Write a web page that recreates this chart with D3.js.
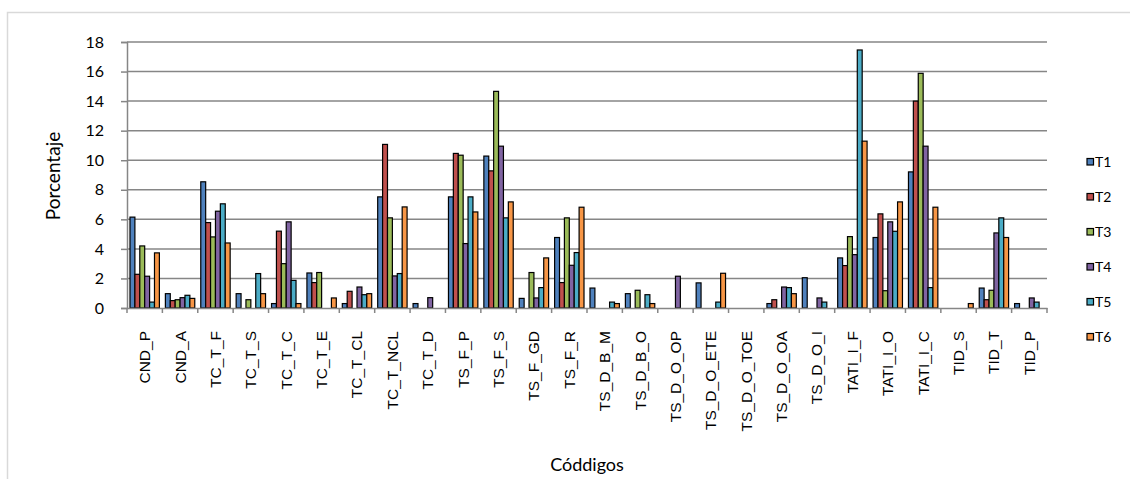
<!DOCTYPE html>
<html><head><meta charset="utf-8">
<script src="https://cdn.jsdelivr.net/npm/d3@7"></script>
<style>
html,body{margin:0;padding:0;background:#fff;}
svg{display:block;}
</style>
</head><body>
<svg id="chart" width="1130" height="479"></svg>
<script>
const categories = ["CND_P","CND_A","TC_T_F","TC_T_S","TC_T_C","TC_T_E","TC_T_CL","TC_T_NCL","TC_T_D","TS_F_P","TS_F_S","TS_F_GD","TS_F_R","TS_D_B_M","TS_D_B_O","TS_D_O_OP","TS_D_O_ETE","TS_D_O_TOE","TS_D_O_OA","TS_D_O_I","TATI_I_F","TATI_I_O","TATI_I_C","TID_S","TID_T","TID_P"];
const seriesNames = ["T1","T2","T3","T4","T5","T6"];
const T1 = [6.15,0.97,8.54,0.97,0.3,2.37,0.3,7.52,0.3,7.52,10.28,0.65,4.77,1.35,0.97,0,1.7,0,0.3,2.05,3.39,4.77,9.21,0,1.35,0.3];
const T2 = [2.28,0.5,5.78,0,5.2,1.72,1.13,11.07,0,10.46,9.28,0,1.72,0,0,0,0,0,0.56,0,2.87,6.37,14.0,0,0.56,0];
const T3 = [4.2,0.56,4.81,0.56,3.0,2.4,0,6.1,0,10.34,14.66,2.4,6.1,0,1.2,0,0,0,0,0,4.83,1.17,15.88,0,1.2,0];
const T4 = [2.15,0.7,6.55,0,5.83,0,1.42,2.17,0.7,4.36,10.95,0.68,2.89,0,0,2.15,0,0,1.42,0.68,3.61,5.83,10.95,0,5.08,0.68];
const T5 = [0.4,0.86,7.05,2.33,1.87,0,0.9,2.33,0,7.52,6.1,1.38,3.75,0.4,0.9,0,0.4,0,1.38,0.4,17.46,5.19,1.38,0,6.1,0.4];
const T6 = [3.73,0.65,4.4,0.97,0.3,0.68,0.97,6.84,0,6.5,7.18,3.39,6.82,0.3,0.3,0,2.35,0,0.97,0,11.29,7.18,6.82,0.3,4.77,0];
const yTicks = [0,2,4,6,8,10,12,14,16,18];
const colors = ["#4F81BD","#C0504D","#9BBB59","#8064A2","#4BACC6","#F79646"];
const yTitle = "Porcentaje";
const xTitle = "Códdigos";

(function(){
const seriesValues = [T1,T2,T3,T4,T5,T6];
const svg = d3.select("#chart");

// outer chart border
svg.append("path").attr("d","M7.5,479 L7.5,12.5 L1130,12.5")
  .attr("fill","none").attr("stroke","#d9d9d9").attr("stroke-width",1.5);

const pLeft = 127, pRight = 1047, pTop = 42, pBottom = 308;
const x = d3.scaleBand().domain(categories).range([pLeft,pRight]).paddingInner(0).paddingOuter(0);
const xs = d3.scaleBand().domain(seriesNames).range([3, x.bandwidth()-3]).padding(0);
const y = d3.scaleLinear().domain([0,18]).range([pBottom,pTop]);
const axisColor = "#868686";

// gridlines
svg.append("g").selectAll("line").data(yTicks.filter(d=>d>0)).join("line")
  .attr("x1",pLeft).attr("x2",pRight).attr("y1",d=>y(d)).attr("y2",d=>y(d))
  .attr("stroke",axisColor).attr("stroke-width",1.5);

// y axis
const yAxis = svg.append("g").attr("transform",`translate(${pLeft},0)`)
  .call(d3.axisLeft(y).tickValues(yTicks).tickSize(6).tickPadding(17).tickFormat(d3.format("d")));
yAxis.select(".domain").attr("stroke",axisColor).attr("stroke-width",1.5);
yAxis.selectAll(".tick line").attr("stroke",axisColor).attr("stroke-width",1.5);
yAxis.selectAll(".tick text").attr("font-family","Lato, 'Open Sans', sans-serif").attr("font-size",16).attr("fill","#000");

// bars
const groups = svg.append("g").selectAll("g").data(seriesNames).join("g")
  .attr("fill",(d,i)=>colors[i]);
groups.selectAll("rect").data((s,i)=>categories.map((c,j)=>({c, s, v:seriesValues[i][j]})).filter(d=>d.v>0)).join("rect")
  .attr("x",d=>x(d.c)+xs(d.s))
  .attr("width",xs.bandwidth())
  .attr("y",d=>y(d.v))
  .attr("height",d=>pBottom-y(d.v))
  .attr("stroke","#000").attr("stroke-width",1.2);

// x axis
const xAxis = svg.append("g").attr("transform",`translate(0,${pBottom})`)
  .call(d3.axisBottom(x).tickSize(0).tickPadding(0));
xAxis.select(".domain").attr("stroke",axisColor).attr("stroke-width",1.5);
xAxis.selectAll(".tick line").remove();
// boundary ticks
svg.append("g").selectAll("line").data(d3.range(categories.length+1)).join("line")
  .attr("x1",i=>pLeft+i*x.step()).attr("x2",i=>pLeft+i*x.step())
  .attr("y1",pBottom).attr("y2",pBottom+5)
  .attr("stroke",axisColor).attr("stroke-width",1.5);
xAxis.selectAll(".tick text")
  .attr("font-family","'Liberation Sans', Arial, sans-serif").attr("font-size",15.5).attr("fill","#000")
  .attr("text-anchor","end").attr("dy","0.35em")
  .attr("transform","translate(0,23) rotate(-90)")
  .attr("x",0).attr("y",0);

// axis titles
svg.append("text").attr("transform","translate(60,176) rotate(-90)")
  .attr("text-anchor","middle").attr("font-family","Lato, 'Open Sans', sans-serif").attr("font-size",19)
  .text(yTitle);
svg.append("text").attr("x",587).attr("y",471)
  .attr("text-anchor","middle").attr("font-family","Lato, 'Open Sans', sans-serif").attr("font-size",18)
  .text(xTitle);

// legend
const leg = svg.append("g").selectAll("g").data(seriesNames).join("g")
  .attr("transform",(d,i)=>`translate(1087,${162+i*35})`);
leg.append("rect").attr("x",0).attr("y",-3.5).attr("width",6.5).attr("height",6.5)
  .attr("fill",(d,i)=>colors[i]).attr("stroke","#000").attr("stroke-width",1.2);
leg.append("text").attr("x",8).attr("y",0).attr("dy","0.35em")
  .attr("font-family","Lato, 'Open Sans', sans-serif").attr("font-size",14)
  .text(d=>d);
})();
</script>
</body></html>
